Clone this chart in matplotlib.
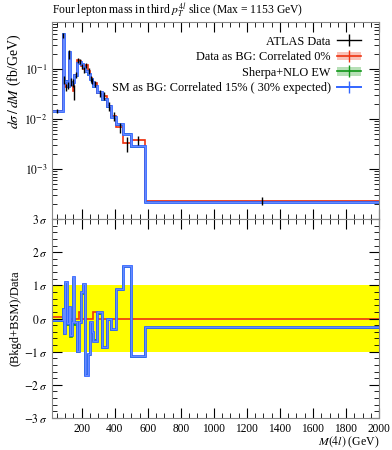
import matplotlib.pyplot as plt
from matplotlib.lines import Line2D
from matplotlib.patches import Patch
from matplotlib.ticker import MultipleLocator, LogLocator, NullFormatter

# bin edges in M(4l) (GeV)
edges = [20, 85, 92, 99, 112, 120, 130, 140, 150, 155, 170, 185, 195, 210, 220,
         235, 250, 260, 270, 295, 320, 350, 375, 410, 450, 500, 580, 2000]

# upper panel: d sigma / dM (fb/GeV)
data = [0.0145, 0.47, 0.062, 0.043, 0.048, 0.20, 0.056, 0.053, 0.036, 0.076,
        0.150, 0.142, 0.113, 0.098, 0.118, 0.092, 0.065, 0.057, 0.050, 0.033,
        0.029, 0.018, 0.0116, 0.0068, 0.0033, 0.0038, 0.00023]
data_err = [0.0015, 0.05, 0.012, 0.007, 0.008, 0.04, 0.010, 0.010, 0.012, 0.010,
            0.018, 0.017, 0.014, 0.013, 0.015, 0.012, 0.009, 0.008, 0.007, 0.005,
            0.005, 0.0035, 0.0025, 0.0015, 0.0011, 0.0008, 0.00004]
data_bg = [0.0147, 0.47, 0.062, 0.044, 0.048, 0.20, 0.056, 0.053, 0.037, 0.076,
           0.150, 0.146, 0.113, 0.098, 0.118, 0.092, 0.065, 0.057, 0.052, 0.033,
           0.029, 0.018, 0.0116, 0.0068, 0.0033, 0.0038, 0.00023]
sherpa = [0.0142, 0.49, 0.053, 0.057, 0.045, 0.21, 0.049, 0.051, 0.054, 0.073,
          0.129, 0.137, 0.121, 0.109, 0.090, 0.076, 0.062, 0.053, 0.044, 0.033,
          0.0245, 0.0176, 0.011, 0.0076, 0.0049, 0.0028, 0.000215]
sm_bg = [0.0147, 0.50, 0.054, 0.058, 0.046, 0.215, 0.050, 0.052, 0.055, 0.075,
         0.132, 0.140, 0.124, 0.112, 0.092, 0.078, 0.064, 0.054, 0.045, 0.034,
         0.025, 0.018, 0.0112, 0.0078, 0.0050, 0.0029, 0.00022]

# lower panel: (Bkgd+BSM - Data) in sigma
sig_data_bg = [0.05, 0, 0, 0, 0, 0, 0, 0, 0, 0, 0, 0.2, 0, 0, 0, 0, 0, 0, 0.2,
               0, 0, 0, 0, 0, 0, 0, 0]
sig_sherpa = [-0.08, 0.28, -0.47, 1.05, -0.2, 0.3, -0.55, -0.15, 1.2, -0.2, -1.02,
              -0.15, 0.75, 1.0, -1.7, -1.1, -0.15, -0.45, -0.65, 0.15, -0.88,
              -0.03, -0.35, 0.85, 1.55, -1.15, -0.3]
sig_sm_bg = [-0.05, 0.3, -0.45, 1.1, -0.15, 0.35, -0.5, -0.1, 1.25, -0.1, -0.97,
             -0.1, 0.8, 1.05, -1.7, -1.06, -0.1, -0.41, -0.67, 0.19, -0.85, 0.0,
             -0.33, 0.88, 1.57, -1.12, -0.27]

RED = '#EE3311'
GREEN = '#109618'
BLUE = '#3366FF'
LIGHTBLUE = '#7F9BFF'
band = 0.06  # relative width of the model bands

plt.rcParams['font.family'] = ['Liberation Serif', 'DejaVu Serif']
plt.rcParams['mathtext.fontset'] = 'stix'
plt.rcParams['xtick.direction'] = 'in'
plt.rcParams['ytick.direction'] = 'in'

fig = plt.figure(figsize=(3.92, 4.5), dpi=100)
ax1 = fig.add_axes([0.1327, 0.5133, 0.8343, 0.4378])
ax2 = fig.add_axes([0.1327, 0.0711, 0.8343, 0.4422], sharex=ax1)

# upper panel
lo = [v * (1 - band) for v in sherpa]
hi = [v * (1 + band) for v in sherpa]
ax1.stairs(hi, edges, baseline=lo, fill=True, color='#88cc88', alpha=0.6, lw=0)
ax1.stairs(sherpa, edges, color=GREEN, lw=1.2, baseline=None)
lo = [v * (1 - band / 2) for v in data_bg]
hi = [v * (1 + band / 2) for v in data_bg]
ax1.stairs(hi, edges, baseline=lo, fill=True, color=RED, alpha=0.3, lw=0)
ax1.stairs(data_bg, edges, color=RED, lw=1.2, baseline=None)
ax1.stairs(sm_bg, edges, color=BLUE, lw=2.0, baseline=None)
ax1.stairs(sm_bg, edges, color=LIGHTBLUE, lw=0.5, baseline=None)
centers = [(a + b) / 2 for a, b in zip(edges[:-1], edges[1:])]
ax1.errorbar(centers, data, yerr=data_err, fmt='none', ecolor='black', elinewidth=1)

ax1.set_yscale('log')
ax1.set_ylim(1e-4, 0.87)
ax1.set_xlim(20, 2000)
ax1.yaxis.set_minor_locator(LogLocator(base=10, subs=range(2, 10), numticks=10))
ax1.yaxis.set_minor_formatter(NullFormatter())
ax1.set_yticks([1e-3, 1e-2, 1e-1])
ax1.set_yticklabels([r'$10^{-3}$', r'$10^{-2}$', r'$10^{-1}$'])
ax1.tick_params(labelbottom=False)
ax1.set_ylabel(r'$d\sigma\,/\,dM$ (fb/GeV)', fontsize=10, y=0.7, labelpad=1)
ax1.set_title(r'Four lepton mass in third $p_T^{4l}$ slice (Max = 1153 GeV)',
              fontsize=8.4, pad=6, loc='left')

handles = [
    Line2D([], [], color='black', lw=1, marker='|', markersize=9),
    (Patch(color=RED, alpha=0.3, lw=0), Line2D([], [], color=RED, lw=1.2, marker='|', markersize=9)),
    (Patch(color='#88cc88', alpha=0.6, lw=0), Line2D([], [], color=GREEN, lw=1.2, marker='|', markersize=9)),
    Line2D([], [], color=BLUE, lw=1.4, marker='|', markersize=9),
]
labels = ['ATLAS Data', 'Data as BG: Correlated 0%', 'Sherpa+NLO EW',
          'SM as BG: Correlated 15% ( 30% expected)']
ax1.legend(handles, labels, loc='upper right', bbox_to_anchor=(0.96, 0.955),
           frameon=False, markerfirst=False, fontsize=8.8, handlelength=2.0,
           handletextpad=0.5, labelspacing=0.28, borderaxespad=0)

# lower panel
ax2.axhspan(-1, 1, color='#FFFF00', lw=0)
ax2.stairs(sig_data_bg, edges, color=RED, lw=1.2, baseline=None)
ax2.stairs(sig_sherpa, edges, color=GREEN, lw=1.2, baseline=None)
ax2.stairs(sig_sm_bg, edges, color=BLUE, lw=2.0, baseline=None)
ax2.stairs(sig_sm_bg, edges, color=LIGHTBLUE, lw=0.5, baseline=None)
ax2.set_ylim(-3, 3)
ax2.set_yticks([-3, -2, -1, 0, 1, 2, 3])
ax2.set_yticklabels([r'$%d\,\sigma$' % v for v in [-3, -2, -1, 0, 1, 2, 3]])
ax2.yaxis.set_minor_locator(MultipleLocator(0.2))
ax2.set_xticks(range(200, 2001, 200))
ax2.xaxis.set_minor_locator(MultipleLocator(50))
ax2.set_ylabel('(Bkgd+BSM)/Data', fontsize=9, labelpad=2)
ax2.set_xlabel(r'$M(4l)$ (GeV)', fontsize=8.5, loc='right', labelpad=0)

for ax in (ax1, ax2):
    ax.tick_params(which='both', top=True, right=True, labelsize=8.3)
    ax.tick_params(which='major', length=7)
    ax.tick_params(which='minor', length=3.5)
    for s in ax.spines.values():
        s.set_color('#888888')

plt.savefig('out.png', dpi=100)
